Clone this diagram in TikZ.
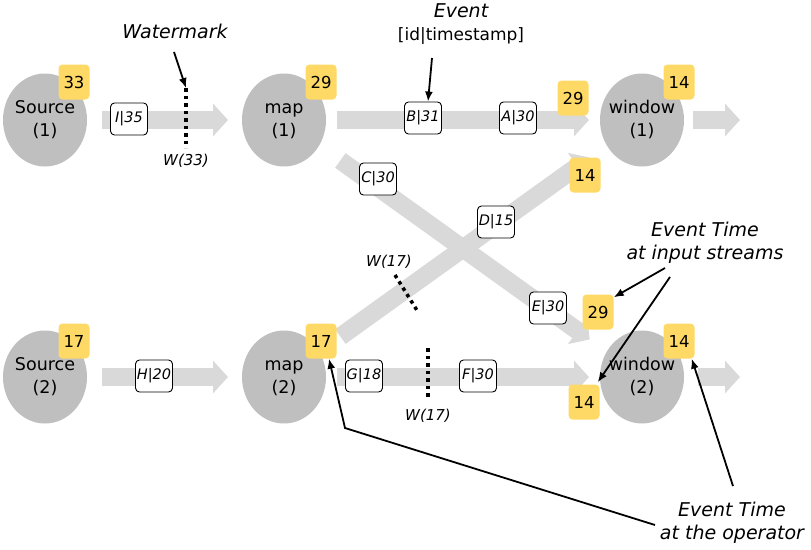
\documentclass[tikz,border=0pt]{standalone}
\usepackage{fontspec}
\setmainfont{DejaVu Sans}
\usepackage{tikz}
\usetikzlibrary{positioning,calc,shapes.geometric,arrows.meta}
\definecolor{OpGray}{HTML}{BFBFBF}
\definecolor{FlowGray}{HTML}{D9D9D9}
\definecolor{TimeGold}{HTML}{FFD966}
\newcommand{\opname}[2]{\makebox[0pt]{\begin{tabular}{@{}c@{}}#1\\(#2)\end{tabular}}}

\begin{document}
\begin{tikzpicture}[%
      x=1pt, y=-1pt,
      op/.style={ellipse, fill=OpGray, minimum width=84pt, minimum height=93pt, inner sep=0pt, outer sep=0pt, font=\fontsize{17.5}{23}\selectfont},
      badge/.style={rectangle, fill=TimeGold, rounded corners=4pt, minimum width=31pt, minimum height=35pt, inner sep=0pt, font=\fontsize{16.5}{18}\selectfont},
      evt/.style={rectangle, draw=black, fill=white, line width=0.9pt, rounded corners=4pt, minimum width=37pt, minimum height=32pt, inner sep=0pt, font=\fontsize{14.5}{16}\selectfont\itshape},
      flow/.style={-{Triangle[length=15pt,width=32pt]}, line width=18pt, FlowGray},
      wm/.style={line width=3.5pt, dash pattern=on 3.5pt off 4pt},
      wlabel/.style={font=\fontsize{15}{18}\selectfont\itshape, inner sep=1pt},
      note/.style={font=\fontsize{19}{23}\selectfont\itshape, align=center, inner sep=1pt},
      pointer/.style={-{Latex[length=10pt,width=8pt]}, line width=1.8pt}
    ]
      \useasboundingbox (0,0) rectangle (811,549);

      % Operators
      \node[op] (src1) at (45,120) {\opname{Source}{1}};
      \node[op] (map1) at (284,120) {\opname{map}{1}};
      \node[op] (win1) at (642,120) {\opname{window}{1}};
      \node[op] (src2) at (45,377) {\opname{Source}{2}};
      \node[op] (map2) at (284,377) {\opname{map}{2}};
      \node[op] (win2) at (642,377) {\opname{window}{2}};

      % Streams
      \coordinate (out1) at (740,120);
      \coordinate (out2) at (740,377);
      \draw[flow, shorten <=15pt, shorten >=14pt] (src1) -- (map1);
      \draw[flow, shorten <=11pt, shorten >=11pt] (map1) -- (win1);
      \draw[flow, shorten <=26pt, shorten >=21pt] (map1) -- (win2);
      \draw[flow, shorten <=26pt, shorten >=21pt] (map2) -- (win1);
      \draw[flow, shorten <=15pt, shorten >=14pt] (src2) -- (map2);
      \draw[flow, shorten <=11pt, shorten >=11pt] (map2) -- (win2);
      \draw[flow, shorten <=9pt] (win1) -- (out1);
      \draw[flow, shorten <=14pt] (win2) -- (out2);

      % Event time badges
      \node[badge] (t-src1) at (74,82) {33};
      \node[badge] (t-map1) at (321,82) {29};
      \node[badge] (t-win1) at (679,82) {14};
      \node[badge] (t-in11) at (573,98) {29};
      \node[badge] (t-in12) at (585,175) {14};
      \node[badge] (t-src2) at (74,341) {17};
      \node[badge] (t-map2) at (321,341) {17};
      \node[badge] (t-win2) at (679,341) {14};
      \node[badge] (t-in21) at (598,312) {29};
      \node[badge] (t-in22) at (584,402) {14};

      % Events
      \node[evt] (evI) at (129,119) {I|35};
      \node[evt] (evB) at (423,118) {B|31};
      \node[evt] (evA) at (518,118) {A|30};
      \node[evt] (evC) at (378,179) {C|30};
      \node[evt] (evD) at (496,222) {D|15};
      \node[evt] (evE) at (548,308) {E|30};
      \node[evt] (evH) at (154,376) {H|20};
      \node[evt] (evG) at (364,376) {G|18};
      \node[evt] (evF) at (478,376) {F|30};

      % Watermarks
      \coordinate (w1top) at (186,88);
      \coordinate (w1bot) at (186,148);
      \coordinate (w2top) at (395,275);
      \coordinate (w2bot) at (418,312);
      \coordinate (w3top) at (428,348);
      \coordinate (w3bot) at (428,400);
      \draw[wm] (w1top) -- (w1bot);
      \draw[wm] (w2top) -- (w2bot);
      \draw[wm] (w3top) -- (w3bot);
      \node[wlabel] (w1lab) at (186,161) {W(33)};
      \node[wlabel] (w2lab) at (389,262) {W(17)};
      \node[wlabel] (w3lab) at (428,416) {W(17)};

      % Annotations
      \node[note] (wmnote) at (175,31) {Watermark};
      \node[note] (evnote) at (461,24) {Event\\{\upshape\fontsize{17}{23}\selectfont[id|timestamp]}};
      \node[note] (innote) at (705,243) {Event Time\\at input streams};
      \node[note] (opnote) at (732,523) {Event Time\\at the operator};

      \coordinate (wmtail) at (174,52);
      \coordinate (evtail) at (432,58);
      \coordinate (intail1) at (665,268);
      \coordinate (intail2) at (670,277);
      \coordinate (optail1) at (733,486);
      \coordinate (optail2) at (655,525);
      \coordinate (opbend) at (345,428);

      \draw[pointer] (wmtail) -- (w1top);
      \draw[pointer] (evtail) -- ([xshift=5pt]evB.north);
      \draw[pointer] (intail1) -- ([yshift=-3pt]t-in21.north east);
      \draw[pointer] (intail2) -- ([xshift=-2pt,yshift=2pt]t-in22.north east);
      \draw[pointer] (optail1) -- ([xshift=-3pt]t-win2.south east);
      \draw[pointer] (optail2) -- (opbend) -- ([xshift=8pt]t-map2.south);
    \end{tikzpicture}
\end{document}
